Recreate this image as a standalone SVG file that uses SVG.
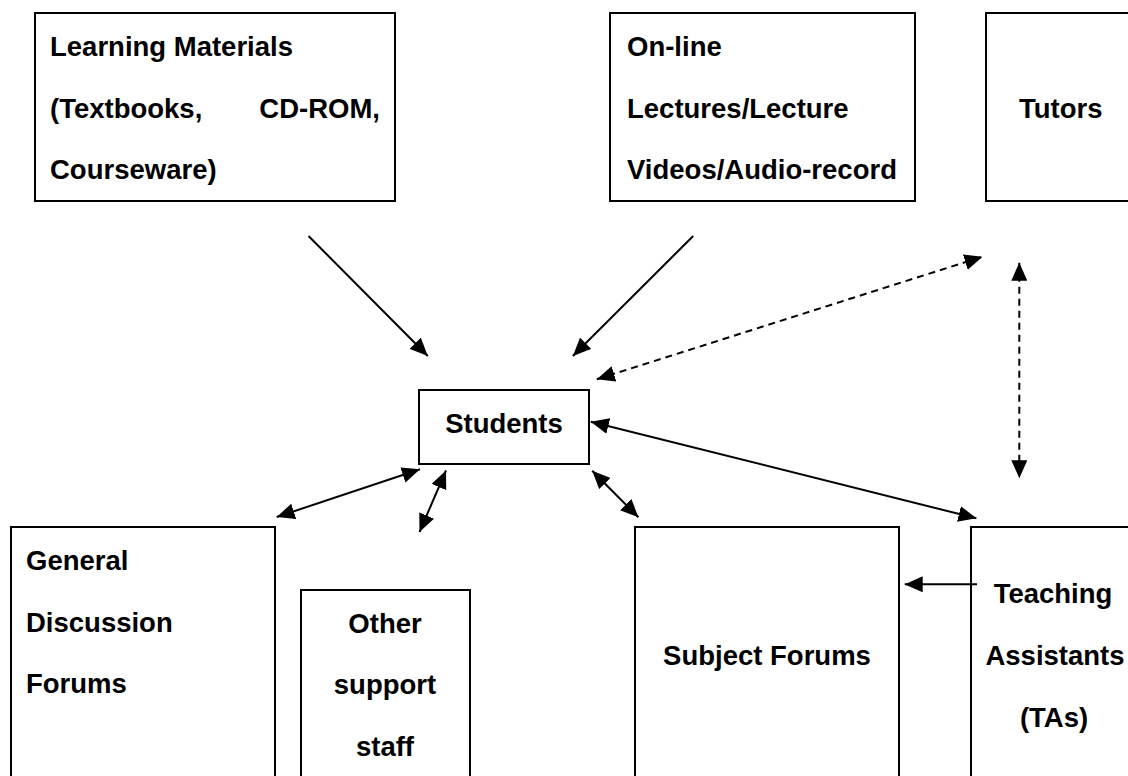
<svg xmlns="http://www.w3.org/2000/svg" width="1128" height="776" viewBox="0 0 1128 776">
<style>
.box{fill:#fff;stroke:#000;stroke-width:2}
.t{font-family:"Liberation Sans",Arial,sans-serif;font-weight:bold;font-size:27.5px;fill:#000}
.c{text-anchor:middle}
.ln{stroke:#000;stroke-width:2;fill:none}
.d{stroke-dasharray:7,5}
</style>
<defs>
<marker id="ah" markerUnits="userSpaceOnUse" viewBox="0 0 18 16" markerWidth="18" markerHeight="16" refX="18" refY="8" orient="auto-start-reverse">
<path d="M0,0 L18,8 L0,16 z" fill="#000"/>
</marker>
</defs>
<rect width="1128" height="776" fill="#fff"/>
<g id="learning-materials">
<rect class="box" x="35" y="13" width="360" height="188"/>
<text class="t" x="50" y="56">Learning Materials</text>
<text class="t" x="50" y="118">(Textbooks,</text>
<text class="t" x="380" y="118" text-anchor="end">CD-ROM,</text>
<text class="t" x="50" y="179">Courseware)</text>
</g>
<g id="online-lectures">
<rect class="box" x="610" y="13" width="305" height="188"/>
<text class="t" x="627" y="56">On-line</text>
<text class="t" x="627" y="118">Lectures/Lecture</text>
<text class="t" x="627" y="179">Videos/Audio-record</text>
</g>
<g id="tutors">
<rect class="box" x="986" y="13" width="200" height="188"/>
<text class="t" x="1019" y="118">Tutors</text>
</g>
<g id="students">
<rect class="box" x="419" y="390" width="170" height="74"/>
<text class="t c" x="504" y="433">Students</text>
</g>
<g id="general-forums">
<rect class="box" x="11" y="527" width="264" height="300"/>
<text class="t" x="26" y="570">General</text>
<text class="t" x="26" y="632">Discussion</text>
<text class="t" x="26" y="693">Forums</text>
</g>
<g id="other-support">
<rect class="box" x="301" y="590" width="169" height="300"/>
<text class="t c" x="385" y="633">Other</text>
<text class="t c" x="385" y="694">support</text>
<text class="t c" x="385" y="756">staff</text>
</g>
<g id="subject-forums">
<rect class="box" x="635" y="527" width="264" height="300"/>
<text class="t c" x="767" y="665">Subject Forums</text>
</g>
<g id="teaching-assistants">
<rect class="box" x="971" y="527" width="200" height="300"/>
<text class="t c" x="1053" y="603">Teaching</text>
<text class="t c" x="1055" y="665">Assistants</text>
<text class="t c" x="1054" y="727">(TAs)</text>
</g>
<g id="connectors">
<line class="ln" x1="308.5" y1="236" x2="427.8" y2="356" marker-end="url(#ah)"/>
<line class="ln" x1="693.2" y1="236" x2="572.9" y2="356" marker-end="url(#ah)"/>
<line class="ln d" x1="596.8" y1="379.3" x2="982.5" y2="256.7" marker-start="url(#ah)" marker-end="url(#ah)"/>
<line class="ln d" x1="1019.3" y1="262.7" x2="1019.3" y2="478.3" marker-start="url(#ah)" marker-end="url(#ah)"/>
<line class="ln" x1="590.8" y1="421.7" x2="976.4" y2="518.3" marker-start="url(#ah)" marker-end="url(#ah)"/>
<line class="ln" x1="420" y1="469.3" x2="276.7" y2="517" marker-start="url(#ah)" marker-end="url(#ah)"/>
<line class="ln" x1="446" y1="470.5" x2="419.5" y2="532" marker-start="url(#ah)" marker-end="url(#ah)"/>
<line class="ln" x1="592.2" y1="470.7" x2="638.4" y2="517.3" marker-start="url(#ah)" marker-end="url(#ah)"/>
<line class="ln" x1="977" y1="584.3" x2="904.7" y2="584.3" marker-end="url(#ah)"/>
</g>
</svg>
